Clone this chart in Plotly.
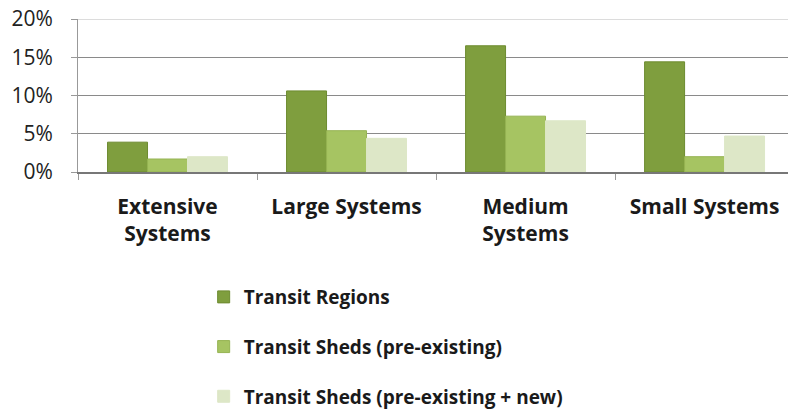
import plotly.graph_objects as go

categories = ["Extensive<br>Systems", "Large Systems", "Medium<br>Systems", "Small Systems"]
series_names = ["Transit Regions", "Transit Sheds (pre-existing)", "Transit Sheds (pre-existing + new)"]
transit_regions = [3.9, 10.6, 16.5, 14.4]
sheds_pre = [1.7, 5.4, 7.3, 2.0]
sheds_pre_new = [2.0, 4.4, 6.7, 4.7]
y_ticks = [0, 5, 10, 15, 20]
y_tick_labels = ["0%", "5%", "10%", "15%", "20%"]

colors = ["#7f9e3e", "#a6c462", "#dde7c7"]
line_colors = ["#6d8b30", "#95b352", "#dde7c7"]

fig = go.Figure()
for i, (name, vals) in enumerate(zip(series_names, [transit_regions, sheds_pre, sheds_pre_new])):
    fig.add_trace(go.Bar(
        x=categories, y=vals, name=name, legendgroup=f"g{i}",
        marker=dict(color=colors[i], line=dict(color=line_colors[i], width=1)),
    ))

fig.update_layout(
    width=788, height=411,
    margin=dict(l=78, r=0, t=19, b=239, autoexpand=False),
    paper_bgcolor="white", plot_bgcolor="white",
    barmode="group", bargap=0.33, bargroupgap=0,
    font=dict(family="Open Sans, sans-serif", color="#1a1a1a"),
    showlegend=True,
    legend=dict(
        x=0.177, xanchor="left", y=-0.693, yanchor="top",
        font=dict(size=19, family="Open Sans, sans-serif", color="#1a1a1a", weight="bold"),
        tracegroupgap=22, itemwidth=30,
    ),
    xaxis=dict(
        range=[-0.5, 3.466], showline=True, linecolor="#777", linewidth=1.5,
        ticks="outside", tickson="boundaries", ticklen=6, tickcolor="#999",
        tickfont=dict(size=21, weight="bold", color="#1a1a1a"),
        ticklabelstandoff=15, automargin=False,
    ),
    yaxis=dict(
        range=[0, 20], tickvals=y_ticks, ticktext=y_tick_labels,
        showgrid=True, gridcolor="#8a8a8a", gridwidth=1,
        showline=True, linecolor="#999", linewidth=1,
        tickfont=dict(size=21, color="#222"), ticks="outside", ticklen=6,
        tickcolor="#999", ticklabelstandoff=14, automargin=False,
        ticklabeloverflow="allow", zeroline=False,
    ),
)
fig.add_shape(type="line", xref="paper", yref="y", x0=0, x1=1, y0=20, y1=20,
              line=dict(color="#d0d0d0", width=1.5))

fig.write_html("out.html", config={"displayModeBar": False},
               post_script="document.body.style.margin='0';")
